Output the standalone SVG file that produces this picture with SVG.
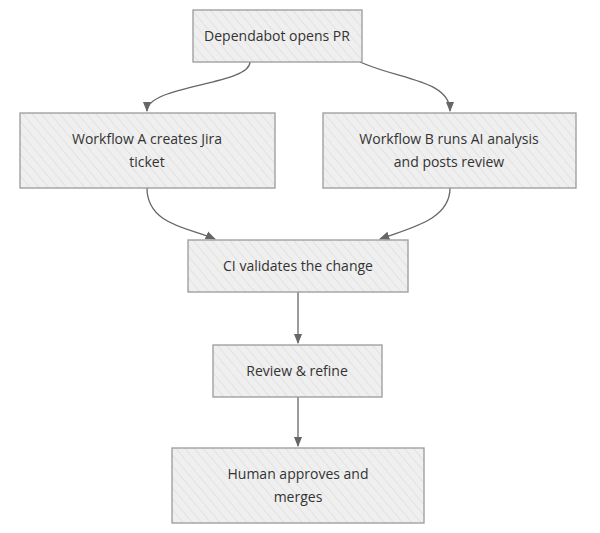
<svg xmlns="http://www.w3.org/2000/svg" width="600" height="533" viewBox="0 0 600 533">
<defs>
<pattern id="h" width="7" height="7" patternUnits="userSpaceOnUse" patternTransform="rotate(-40)">
<rect width="7" height="7" fill="#efefef"/>
<line x1="0" y1="0" x2="0" y2="7" stroke="#d6d6d6" stroke-width="1"/>
</pattern>
<marker id="a" viewBox="0 0 10 10" refX="9" refY="5" markerWidth="8" markerHeight="8" orient="auto">
<path d="M0,1 L10,5 L0,9 z" fill="#666"/>
</marker>
<style>
.n rect{fill:url(#h);stroke:#9a9a9a;stroke-width:1.3}
.n text{font-family:"Open Sans","DejaVu Sans",sans-serif;font-size:14px;fill:#333;text-anchor:middle}
#edges path{fill:none;stroke:#666;stroke-width:1.3;marker-end:url(#a)}
</style>
</defs>
<rect width="600" height="533" fill="#fff"/>
<g id="edges">
<path d="M250,62 C250,85 147,85 147,111"/>
<path d="M360,62 C400,80 450,80 450,111"/>
<path d="M147,188 C147,225 190,228 215,239"/>
<path d="M450,188 C450,220 410,228 380,239"/>
<path d="M298,292 L298,343"/>
<path d="M298,397 L298,446"/>
</g>
<g id="n1" class="n"><rect x="193" y="10" width="169" height="52"/><text x="277" y="41">Dependabot opens PR</text></g>
<g id="n2" class="n"><rect x="20" y="113" width="255" height="75"/><text x="147" y="144">Workflow A creates Jira</text><text x="147" y="167">ticket</text></g>
<g id="n3" class="n"><rect x="323" y="113" width="253" height="75"/><text x="449" y="144">Workflow B runs AI analysis</text><text x="449" y="167">and posts review</text></g>
<g id="n4" class="n"><rect x="188" y="240" width="220" height="52"/><text x="298" y="271">CI validates the change</text></g>
<g id="n5" class="n"><rect x="213" y="345" width="169" height="52"/><text x="297" y="376">Review &amp; refine</text></g>
<g id="n6" class="n"><rect x="172" y="448" width="252" height="75"/><text x="298" y="479">Human approves and</text><text x="298" y="502">merges</text></g>
</svg>
